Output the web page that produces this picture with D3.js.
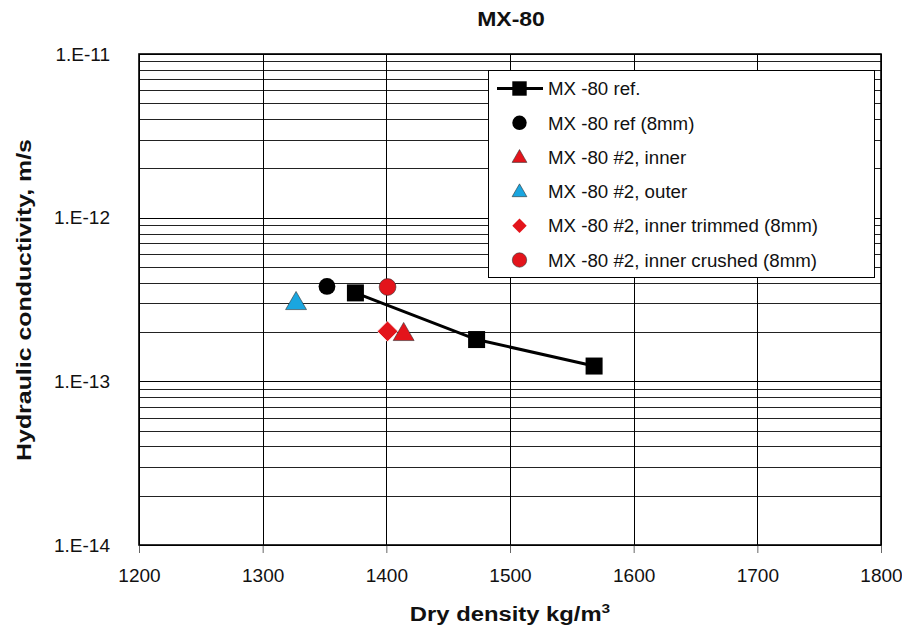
<!DOCTYPE html>
<html>
<head>
<meta charset="utf-8">
<script src="https://cdn.jsdelivr.net/npm/d3@7"></script>
<style>
  html, body { margin: 0; padding: 0; background: #fff; }
  svg { display: block; font-family: "Liberation Sans", Arial, sans-serif; }
</style>
</head>
<body>
<svg id="chart" width="902" height="632"></svg>
<script>
// ---- data ----
const xTicks = [1200, 1300, 1400, 1500, 1600, 1700, 1800];
const yTicks = [1e-14, 1e-13, 1e-12, 1e-11];
const yTickLabels = ["1.E-14", "1.E-13", "1.E-12", "1.E-11"];

const refDensity = [1375, 1473, 1568];
const refK = [3.47e-13, 1.80e-13, 1.24e-13];

const ref8Density = [1352];
const ref8K = [3.80e-13];

const innerDensity = [1414];
const innerK = [1.96e-13];

const outerDensity = [1327];
const outerK = [3.03e-13];

const trimmedDensity = [1401];
const trimmedK = [2.02e-13];

const crushedDensity = [1401];
const crushedK = [3.77e-13];

const seriesNames = [
  "MX -80 ref.",
  "MX -80 ref (8mm)",
  "MX -80 #2, inner",
  "MX -80 #2, outer",
  "MX -80 #2, inner trimmed (8mm)",
  "MX -80 #2, inner crushed (8mm)"
];

// ---- layout ----
const svg = d3.select("#chart");
const L = 139, R = 881, T = 54, B = 545;
const RED = "#e3141b", CYAN = "#1aa6e0";
const FONT = "Liberation Sans, Arial, sans-serif";

const x = d3.scaleLinear().domain([1200, 1800]).range([L, R]);
const y = d3.scaleLog().domain([1e-14, 1e-11]).range([B, T]);

// minor grid lines (2..9 of each decade)
const minor = [];
[1e-14, 1e-13, 1e-12].forEach(d => { for (let m = 2; m <= 9; m++) minor.push(d * m); });

const grid = svg.append("g");
grid.selectAll("line.minor").data(minor).enter().append("line")
  .attr("x1", L).attr("x2", R)
  .attr("y1", d => Math.round(y(d)) + 0.5).attr("y2", d => Math.round(y(d)) + 0.5)
  .attr("stroke", "#222").attr("stroke-width", 1);
grid.selectAll("line.major").data(yTicks).enter().append("line")
  .attr("x1", L).attr("x2", R)
  .attr("y1", d => Math.round(y(d)) + 0.5).attr("y2", d => Math.round(y(d)) + 0.5)
  .attr("stroke", "#000").attr("stroke-width", 1);
grid.selectAll("line.v").data(xTicks).enter().append("line")
  .attr("x1", d => Math.round(x(d)) + 0.5).attr("x2", d => Math.round(x(d)) + 0.5)
  .attr("y1", T).attr("y2", B)
  .attr("stroke", "#000").attr("stroke-width", 1);

// x axis
const xAxis = d3.axisBottom(x).tickValues(xTicks).tickSize(8).tickPadding(16).tickFormat(d3.format("d"));
const gx = svg.append("g").attr("transform", `translate(0,${B})`).call(xAxis);
gx.select(".domain").remove();
gx.selectAll("line").attr("stroke", "#666");
gx.selectAll("text").attr("font-size", "19px").attr("fill", "#111").attr("font-family", FONT);

// y axis
const yAxis = d3.axisLeft(y).tickValues(yTicks).tickSize(0).tickPadding(29)
  .tickFormat((d, i) => yTickLabels[i]);
const gy = svg.append("g").attr("transform", `translate(${L},0)`).call(yAxis);
gy.select(".domain").remove();
gy.selectAll("text").attr("font-size", "19px").attr("fill", "#111").attr("font-family", FONT);

// plot border
svg.append("rect").attr("x", L).attr("y", T).attr("width", R - L).attr("height", B - T)
  .attr("fill", "none").attr("stroke", "#000").attr("stroke-width", 1.6);

// ---- marks ----
const tri = d3.symbol().type(d3.symbolTriangle).size(190);
const dia = d3.symbol().type(d3.symbolSquare).size(215);

const refData = refDensity.map((d, i) => [d, refK[i]]);
svg.append("path").datum(refData)
  .attr("d", d3.line().x(d => x(d[0])).y(d => y(d[1])))
  .attr("fill", "none").attr("stroke", "#000").attr("stroke-width", 3);
svg.selectAll("rect.ref").data(refData).enter().append("rect")
  .attr("x", d => x(d[0]) - 8.5).attr("y", d => y(d[1]) - 8.5)
  .attr("width", 17).attr("height", 17).attr("fill", "#000");

svg.selectAll("circle.ref8").data(ref8Density.map((d, i) => [d, ref8K[i]])).enter().append("circle")
  .attr("cx", d => x(d[0])).attr("cy", d => y(d[1])).attr("r", 8.4).attr("fill", "#000");

svg.selectAll("path.outer").data(outerDensity.map((d, i) => [d, outerK[i]])).enter().append("path")
  .attr("d", tri).attr("transform", d => `translate(${x(d[0])},${y(d[1]) + 1})`)
  .attr("fill", CYAN).attr("stroke", "#333").attr("stroke-width", 0.6);

svg.selectAll("path.trim").data(trimmedDensity.map((d, i) => [d, trimmedK[i]])).enter().append("path")
  .attr("d", dia).attr("transform", d => `translate(${x(d[0])},${y(d[1])}) rotate(45)`)
  .attr("fill", RED).attr("stroke", "#fff").attr("stroke-width", 0.8);

svg.selectAll("path.inner").data(innerDensity.map((d, i) => [d, innerK[i]])).enter().append("path")
  .attr("d", tri).attr("transform", d => `translate(${x(d[0])},${y(d[1]) + 1})`)
  .attr("fill", RED).attr("stroke", "#333").attr("stroke-width", 0.6);

svg.selectAll("circle.crush").data(crushedDensity.map((d, i) => [d, crushedK[i]])).enter().append("circle")
  .attr("cx", d => x(d[0])).attr("cy", d => y(d[1])).attr("r", 8.4)
  .attr("fill", RED).attr("stroke", "#333").attr("stroke-width", 0.6);

// ---- legend ----
const lg = svg.append("g");
lg.append("rect").attr("x", 488.5).attr("y", 70.5).attr("width", 386).attr("height", 207)
  .attr("fill", "#fff").attr("stroke", "#000").attr("stroke-width", 1);
const rowY = i => 88.5 + i * 34.3;
const mx = 519.5;
seriesNames.forEach((name, i) => {
  const cy = rowY(i);
  if (i === 0) {
    lg.append("line").attr("x1", 497).attr("x2", 543).attr("y1", cy).attr("y2", cy)
      .attr("stroke", "#000").attr("stroke-width", 3);
    lg.append("rect").attr("x", mx - 7.2).attr("y", cy - 7.2).attr("width", 14.4).attr("height", 14.4).attr("fill", "#000");
  } else if (i === 1) {
    lg.append("circle").attr("cx", mx).attr("cy", cy).attr("r", 7.2).attr("fill", "#000");
  } else if (i === 2 || i === 3) {
    lg.append("path").attr("d", d3.symbol().type(d3.symbolTriangle).size(95))
      .attr("transform", `translate(${mx},${cy + 1})`)
      .attr("fill", i === 2 ? RED : CYAN).attr("stroke", "#333").attr("stroke-width", 0.6);
  } else if (i === 4) {
    lg.append("path").attr("d", d3.symbol().type(d3.symbolSquare).size(104))
      .attr("transform", `translate(${mx},${cy}) rotate(45)`).attr("fill", RED);
  } else {
    lg.append("circle").attr("cx", mx).attr("cy", cy).attr("r", 7.2)
      .attr("fill", RED).attr("stroke", "#333").attr("stroke-width", 0.6);
  }
  lg.append("text").attr("x", 548).attr("y", cy + 6.7).attr("font-size", "18.7px").attr("fill", "#111")
    .text(name);
});

// ---- titles ----
svg.append("text").attr("transform", "translate(511,26) scale(1.15,1)").attr("text-anchor", "middle")
  .attr("font-size", "20px").attr("font-weight", "bold").attr("fill", "#111").text("MX-80");

const xt = svg.append("text").attr("transform", "translate(510,621) scale(1.19,1)").attr("text-anchor", "middle")
  .attr("font-size", "20px").attr("font-weight", "bold").attr("fill", "#111");
xt.append("tspan").text("Dry density kg/m");
xt.append("tspan").attr("dy", -8).attr("font-size", "13px").text("3");

svg.append("text").attr("transform", "translate(31,300) rotate(-90) scale(1.245,1)").attr("text-anchor", "middle")
  .attr("font-size", "20px").attr("font-weight", "bold").attr("fill", "#111")
  .text("Hydraulic conductivity, m/s");
</script>
</body>
</html>
